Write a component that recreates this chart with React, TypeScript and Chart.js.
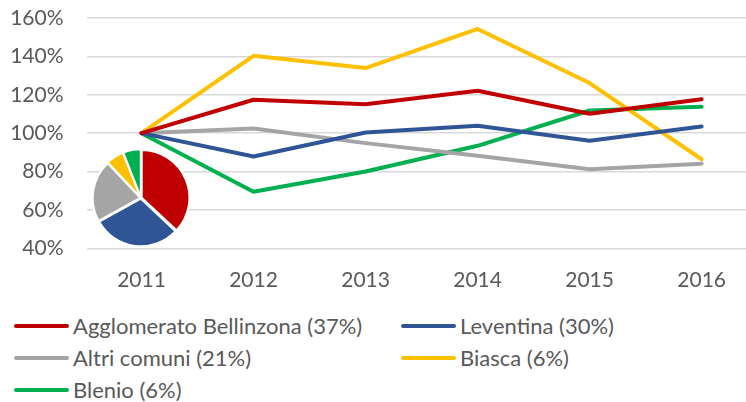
import React, { useEffect, useRef } from "react";
import { Chart, registerables } from "chart.js";

Chart.register(...registerables);

const years = [2011, 2012, 2013, 2014, 2015, 2016];
const yTicks = [40, 60, 80, 100, 120, 140, 160];

const seriesNames = [
  "Agglomerato Bellinzona (37%)",
  "Leventina (30%)",
  "Altri comuni (21%)",
  "Biasca (6%)",
  "Blenio (6%)",
];
const seriesColors = ["#C00000", "#2F5597", "#A5A5A5", "#FFC000", "#00B050"];

const bellinzona = [100, 117.4, 115.1, 122.1, 110.1, 117.7];
const leventina = [100, 87.8, 100.3, 103.8, 96.0, 103.5];
const altri = [100, 102.4, 94.8, 88.2, 81.2, 84.1];
const biasca = [100, 140.3, 133.9, 154.3, 126.1, 86.4];
const blenio = [100, 69.5, 80.0, 93.4, 111.8, 113.7];

const shares = [37, 30, 21, 6, 6];

const seriesValues = [bellinzona, leventina, altri, biasca, blenio];

const FONT = "Lato, 'Open Sans', sans-serif";
const TEXT = "#595959";

// legend layout (row, column)
const legendPos = [
  [0, 0],
  [0, 1],
  [1, 0],
  [1, 1],
  [2, 0],
];
const legendRowY = [326, 358, 390];
const legendColX = [14, 401];

export default function App() {
  const lineRef = useRef<HTMLCanvasElement>(null);
  const pieRef = useRef<HTMLCanvasElement>(null);

  useEffect(() => {
    const lineChart = new Chart(lineRef.current!, {
      type: "line",
      data: {
        datasets: seriesValues.map((vals, i) => ({
          label: seriesNames[i],
          data: vals.map((v, j) => ({ x: years[j], y: v })),
          borderColor: seriesColors[i],
          backgroundColor: seriesColors[i],
          borderWidth: 4,
          pointRadius: 0,
          tension: 0,
          fill: false,
          borderJoinStyle: "round" as const,
          borderCapStyle: "round" as const,
        })),
      },
      options: {
        animation: false,
        responsive: false,
        layout: { padding: { top: 18, left: 0, right: 0, bottom: 0 } },
        plugins: { legend: { display: false }, tooltip: { enabled: false } },
        scales: {
          x: {
            type: "linear",
            min: 2010.509,
            max: 2016.396,
            grid: { display: false, drawTicks: false },
            border: { display: false },
            afterBuildTicks: (scale: any) => {
              scale.ticks = years.map((v) => ({ value: v }));
            },
            afterFit: (scale: any) => {
              scale.height = 300 - 248.3;
              scale.paddingLeft = 0;
              scale.paddingRight = 0;
            },
            ticks: {
              padding: 19,
              autoSkip: false,
              maxRotation: 0,
              color: TEXT,
              font: { family: FONT, size: 21 },
              callback: (v: any) => String(v),
            },
          },
          y: {
            min: 40,
            max: 160,
            afterBuildTicks: (scale: any) => {
              scale.ticks = yTicks.map((v) => ({ value: v }));
            },
            afterFit: (scale: any) => {
              scale.width = 86.5;
              scale.paddingTop = 0;
              scale.paddingBottom = 0;
            },
            grid: { color: "#D9D9D9", lineWidth: 1.5, drawTicks: false },
            border: { display: false },
            ticks: {
              padding: 23,
              color: TEXT,
              font: { family: FONT, size: 21 },
              callback: (v: any) => v + "%",
            },
          },
        },
      },
    });

    const pieChart = new Chart(pieRef.current!, {
      type: "pie",
      data: {
        labels: seriesNames,
        datasets: [
          {
            data: shares,
            backgroundColor: seriesColors,
            borderColor: "#FFFFFF",
            borderWidth: 2,
            offset: 3,
          },
        ],
      },
      options: {
        animation: false,
        responsive: false,
        plugins: { legend: { display: false }, tooltip: { enabled: false } },
        layout: { padding: 0 },
      },
    });

    return () => {
      lineChart.destroy();
      pieChart.destroy();
    };
  }, []);

  return (
    <div
      style={{
        position: "fixed",
        left: 0,
        top: 0,
        width: 746,
        height: 402,
        overflow: "hidden",
        background: "#FFFFFF",
        fontFamily: FONT,
      }}
    >
      <canvas
        ref={lineRef}
        width={746}
        height={300}
        style={{ position: "absolute", left: 0, top: 0, width: 746, height: 300 }}
      />
      <canvas
        ref={pieRef}
        width={100}
        height={100}
        style={{ position: "absolute", left: 91, top: 148, width: 100, height: 100 }}
      />
      {seriesNames.map((name, i) => {
        const [r, c] = legendPos[i];
        const y = legendRowY[r];
        const x = legendColX[c];
        return (
          <React.Fragment key={name}>
            <div
              style={{
                position: "absolute",
                left: x,
                top: y - 2,
                width: 55,
                height: 4,
                borderRadius: 2,
                background: seriesColors[i],
              }}
            />
            <div
              style={{
                position: "absolute",
                left: x + 59,
                top: y,
                transform: "translateY(-50%)",
                fontSize: 22,
                lineHeight: "26px",
                color: TEXT,
                whiteSpace: "nowrap",
              }}
            >
              {name}
            </div>
          </React.Fragment>
        );
      })}
    </div>
  );
}
